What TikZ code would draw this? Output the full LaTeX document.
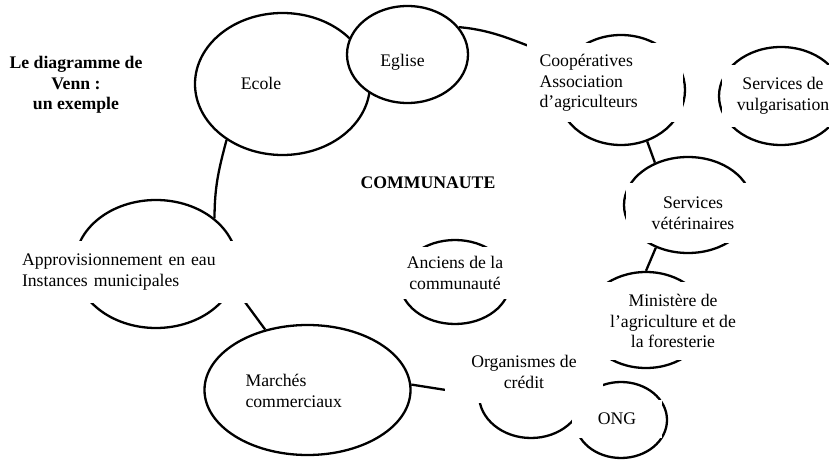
\documentclass[tikz,border=0pt]{standalone}
\usepackage{fontspec}
\setmainfont{Liberation Serif}
\usepackage{tikz}
\usetikzlibrary{shapes.geometric}
\newcommand{\vennsize}{\fontsize{17.7}{20.5}\selectfont}

\begin{document}
\begin{tikzpicture}[x=1pt, y=-1pt,
        every node/.style={font=\vennsize},
        blob/.style={draw, ellipse, fill=white, line width=2.3pt, inner sep=0pt},
        cover/.style={fill=white, inner sep=0pt},
        link/.style={line width=2.3pt}]
        \useasboundingbox (0,0) rectangle (829,465);

        % Title
        \node[font=\vennsize\bfseries, align=center] (title) at (76,85) {Le diagramme de\\Venn :\\un exemple};
        \node[font=\vennsize\bfseries] (communaute) at (428,183) {COMMUNAUTE};

        % Circles round the community
        \node[blob, minimum width=175pt, minimum height=142pt] (ecole) at (282.5,84) {};
        \node[blob, minimum width=121pt, minimum height=97pt] (eglise) at (407.5,54.5) {};
        \node[blob, minimum width=128pt, minimum height=110pt] (coop) at (621,90) {};
        \node[blob, minimum width=124pt, minimum height=98pt] (vulg) at (781,96) {};
        \node[blob, minimum width=128pt, minimum height=96pt] (vet) at (688,205) {};
        \node[blob, minimum width=122pt, minimum height=96pt] (min) at (646,320) {};
        \node[blob, minimum width=110pt, minimum height=84pt] (anciens) at (455,282) {};
        \node[blob, minimum width=104pt, minimum height=86pt] (org) at (531,395) {};
        \node[blob, minimum width=92pt, minimum height=76pt] (ong) at (621,420) {};
        \node[blob, minimum width=206pt, minimum height=130pt] (marches) at (307.5,390) {};
        \node[blob, minimum width=162pt, minimum height=128pt] (water) at (156,264) {};

        % Links between circles
        \draw[link] (ecole.225) to[out=-105, in=90] (water.38);
        \draw[link] (eglise.28) to[out=-5, in=165] (coop.150);
        \draw[link] (coop.-63) -- (vet.128);
        \draw[link] (vet.233) -- (min.90);
        \draw[link] (marches.3) -- (org.west);
        \draw[link] (water.-16) -- (marches.125);

        % Labels on white boxes
        \node[cover, minimum width=235pt, minimum height=62pt, text width=221pt, align=left] (waterlbl) at (132.5,272) {Approvisionnement en eau\\Instances municipales};
        \node[cover, minimum width=156pt, minimum height=79pt, text width=130pt, align=left] (cooplbl) at (604.5,83) {Coopératives\\Association\\d’agriculteurs};
        \node[cover, minimum width=122pt, minimum height=62pt, align=center] (vulglbl) at (783,96) {Services de\\vulgarisation};
        \node[cover, minimum width=134pt, minimum height=60pt, align=center] (vetlbl) at (693,213) {Services\\vétérinaires};
        \node[cover, minimum width=186pt, minimum height=78pt, align=center] (minlbl) at (673,321) {Ministère de\\l’agriculture et de\\la foresterie};
        \node[cover, minimum width=120pt, minimum height=52pt, align=center] (ancienslbl) at (455,273) {Anciens de la\\communauté};
        \node[cover, minimum width=158pt, minimum height=62pt, align=center] (orglbl) at (524,372) {Organismes de\\crédit};
        \node[cover, minimum width=90pt, minimum height=38pt] (onglbl) at (617,419) {ONG};

        % Plain labels
        \node (ecolelbl) at (261,83) {Ecole};
        \node (eglisebl) at (402.5,62) {Eglise};
        \node[anchor=west, align=left] (marcheslbl) at (242,391) {Marchés\\commerciaux};
    \end{tikzpicture}
\end{document}
